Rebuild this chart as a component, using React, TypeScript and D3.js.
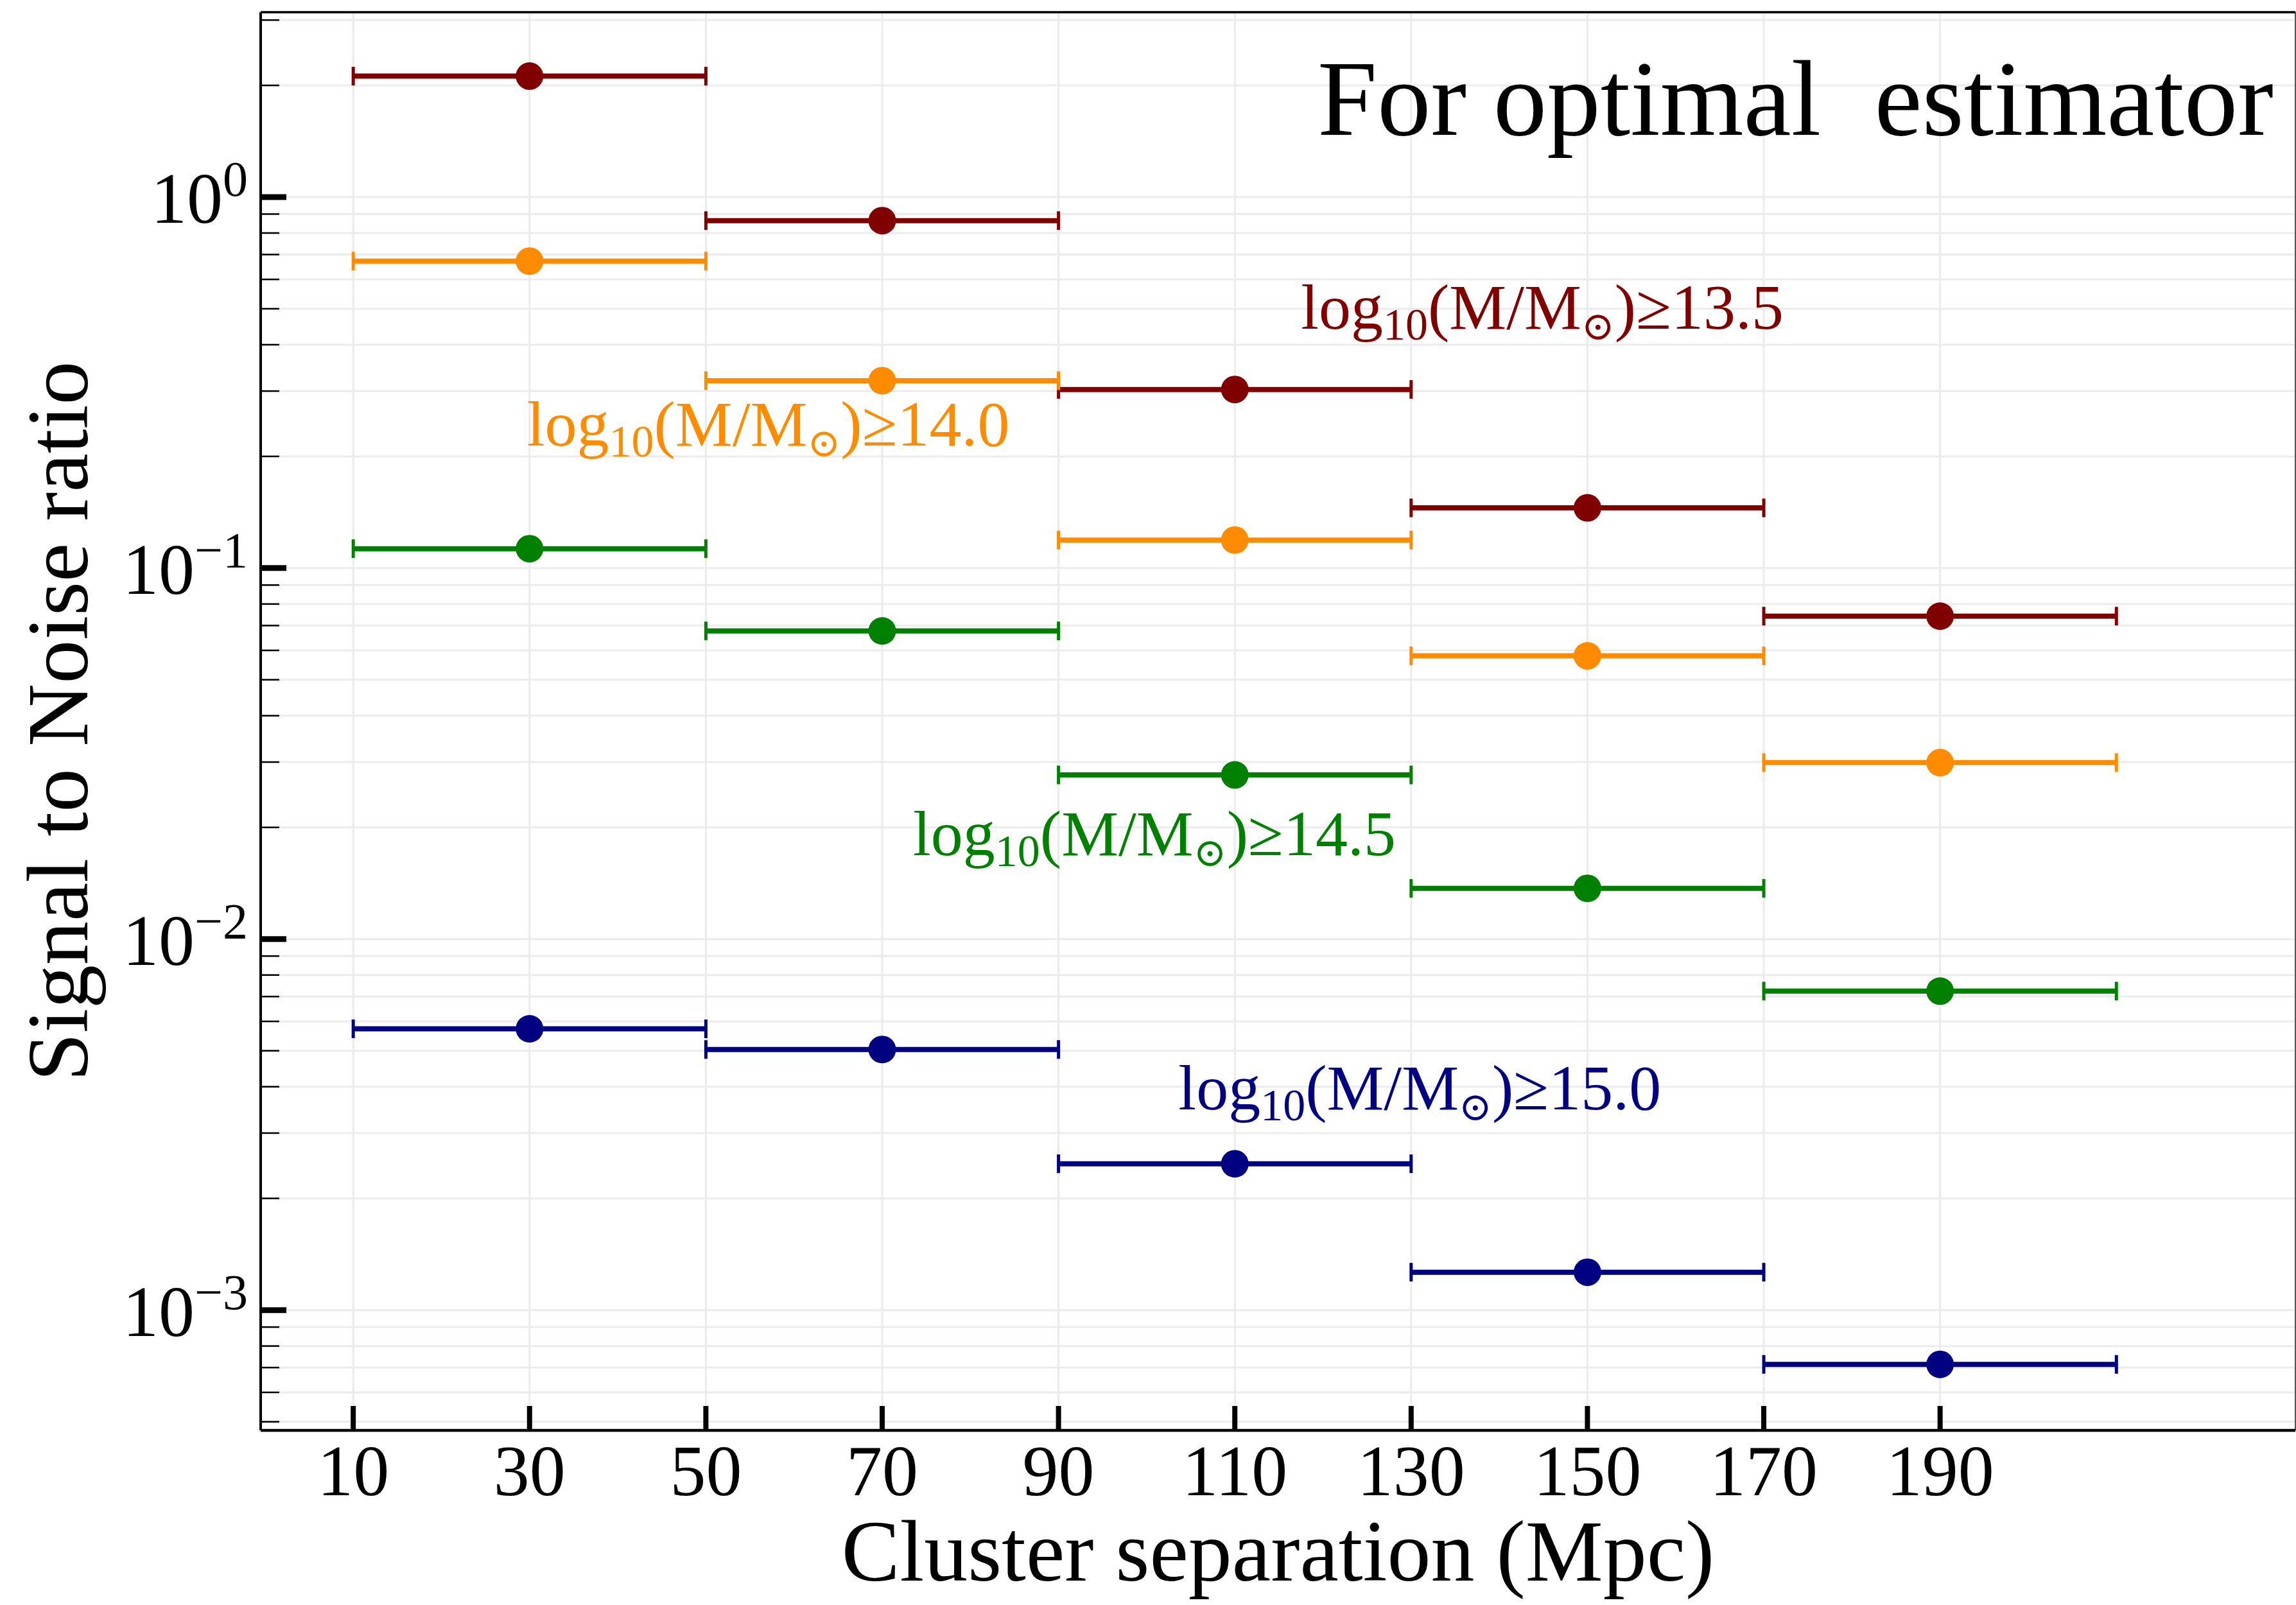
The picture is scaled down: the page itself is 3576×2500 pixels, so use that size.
import React from "react";
import * as d3 from "d3";

// halo mass thresholds, log10(M/Msun)
const massCuts = ["13.5", "14.0", "14.5", "15.0"];
const seriesColors = ["#800000", "#ff8c00", "#008000", "#000080"];

// separation bins (Mpc)
const binCenters = [30, 70, 110, 150, 190];
const binHalfWidth = 20;

// signal to noise per bin, one array per mass cut
const snr135 = [2.118, 0.864, 0.303, 0.1453, 0.0742];
const snr140 = [0.672, 0.32, 0.119, 0.058, 0.0299];
const snr145 = [0.1128, 0.0677, 0.0277, 0.0137, 0.00724];
const snr150 = [0.00573, 0.00504, 0.00248, 0.001265, 0.000714];

// where the text labels sit (data coords: left x, baseline y)
const labelX = [117.5, 29.7, 73.5, 103.6];
const labelY = [0.441, 0.214, 0.01686, 0.00347];

const xTicks = [10, 30, 50, 70, 90, 110, 130, 150, 170, 190];
const yMajor = [1, 0.1, 0.01, 0.001];
const yMajorExp = ["0", "−1", "−2", "−3"];

const W = 3576;
const H = 2500;
const FONT = "'Liberation Serif', 'DejaVu Serif', serif";

const App = () => {
  const x = d3.scaleLinear().domain([-0.5, 230.3]).range([406, 3575]);
  const y = d3.scaleLog().domain([4.74e-4, 3.15]).range([2228, 19]);
  const [x0, x1] = x.range();
  const [y0, y1] = y.range();

  const series = [snr135, snr140, snr145, snr150];

  // minor ticks 2..9 x 10^n inside the domain
  const minor: number[] = [];
  for (let e = -4; e <= 0; e++) {
    for (let k = 2; k <= 9; k++) {
      const v = k * Math.pow(10, e);
      if (v >= y.domain()[0] && v <= y.domain()[1]) minor.push(v);
    }
  }
  const allY = [...yMajor, ...minor];

  return (
    <svg
      width={W}
      height={H}
      style={{ position: "absolute", left: 0, top: 0, background: "#fff" }}
      fontFamily={FONT}
    >
      <rect width={W} height={H} fill="#fff" />

      {/* grid */}
      <g stroke="#ebebeb" strokeWidth={3}>
        {allY.map((v, i) => (
          <line key={"gy" + i} x1={x0} x2={x1} y1={y(v)} y2={y(v)} />
        ))}
        {xTicks.map((t) => (
          <line key={"gx" + t} x1={x(t)} x2={x(t)} y1={y0} y2={y1} />
        ))}
      </g>

      {/* error bars + points */}
      {series.map((vals, si) => (
        <g key={"s" + si} stroke={seriesColors[si]} fill={seriesColors[si]}>
          {vals.map((v, i) => {
            const c = binCenters[i];
            const yy = y(v);
            return (
              <g key={i}>
                <line x1={x(c - binHalfWidth)} x2={x(c + binHalfWidth)} y1={yy} y2={yy} strokeWidth={8} />
                <line x1={x(c - binHalfWidth)} x2={x(c - binHalfWidth)} y1={yy - 14.5} y2={yy + 14.5} strokeWidth={5} />
                <line x1={x(c + binHalfWidth)} x2={x(c + binHalfWidth)} y1={yy - 14.5} y2={yy + 14.5} strokeWidth={5} />
                <circle cx={x(c)} cy={yy} r={21.5} stroke="none" />
              </g>
            );
          })}
        </g>
      ))}

      {/* mass cut labels */}
      {massCuts.map((m, i) => (
        <text key={"lab" + i} x={x(labelX[i])} y={y(labelY[i])} fontSize={100} fill={seriesColors[i]}>
          log
          <tspan fontSize={70} dy={17}>10</tspan>
          <tspan dy={-17}>(M/M</tspan>
          <tspan fontSize={62} dy={17}>⊙</tspan>
          <tspan dy={-17}>)≥{m}</tspan>
        </text>
      ))}

      <text x={3541} y={210} fontSize={167} textAnchor="end" style={{ whiteSpace: "pre" }}>
        For optimal  estimator
      </text>

      {/* ticks */}
      <g stroke="#000">
        {minor.map((v, i) => (
          <line key={"mt" + i} x1={x0} x2={x0 + 29} y1={y(v)} y2={y(v)} strokeWidth={2.5} />
        ))}
        {yMajor.map((v) => (
          <line key={"Mt" + v} x1={x0} x2={x0 + 40} y1={y(v)} y2={y(v)} strokeWidth={9} />
        ))}
        {xTicks.map((t) => (
          <line key={"xt" + t} x1={x(t)} x2={x(t)} y1={y0} y2={y0 - 38} strokeWidth={8} />
        ))}
      </g>

      {/* spines */}
      <line x1={x1} x2={x1} y1={y1} y2={y0} stroke="#555" strokeWidth={2} />
      <line x1={x0} x2={x1} y1={y1} y2={y1} stroke="#000" strokeWidth={3.5} />
      <line x1={x0} x2={x0} y1={y1} y2={y0} stroke="#000" strokeWidth={4} />
      <line x1={x0} x2={x1} y1={y0} y2={y0} stroke="#000" strokeWidth={4.5} />

      {/* tick labels */}
      {xTicks.map((t) => (
        <text key={"xl" + t} x={x(t)} y={2329} fontSize={112} textAnchor="middle">
          {t}
        </text>
      ))}
      {yMajor.map((v, i) => (
        <text key={"yl" + v} x={386} y={y(v) + 40} fontSize={112} textAnchor="end">
          10
          <tspan fontSize={78} dy={-42}>{yMajorExp[i]}</tspan>
        </text>
      ))}

      {/* axis titles */}
      <text x={(x0 + x1) / 2} y={2462} fontSize={136} textAnchor="middle">
        Cluster separation (Mpc)
      </text>
      <text
        transform={`translate(136, ${(y0 + y1) / 2}) rotate(-90)`}
        fontSize={136}
        textAnchor="middle"
      >
        Signal to Noise ratio
      </text>
    </svg>
  );
};

export default App;
